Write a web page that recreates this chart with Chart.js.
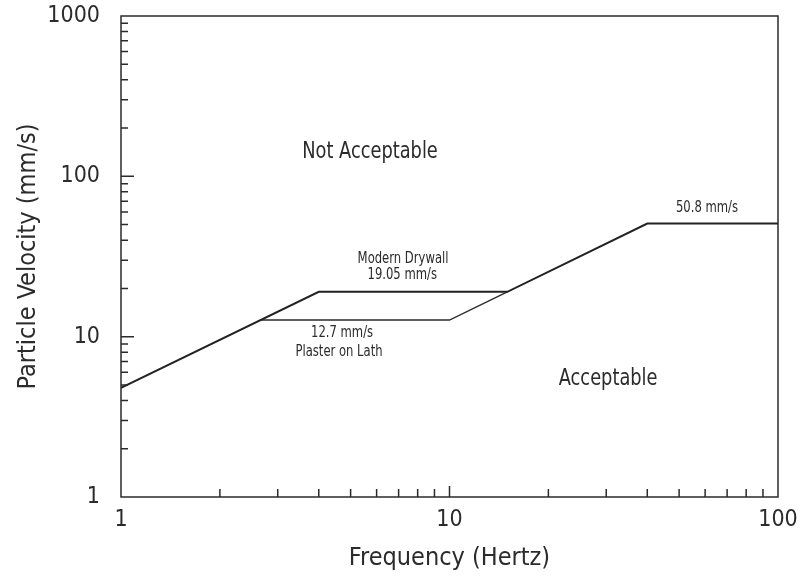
<!DOCTYPE html>
<html>
<head>
<meta charset="utf-8">
<script src="https://cdn.jsdelivr.net/npm/chart.js@4/dist/chart.umd.min.js"></script>
<style>
  body { margin: 0; background: #fff; }
  canvas { display: block; }
</style>
</head>
<body>
<canvas id="myChart" width="800" height="576"></canvas>
<script>
// limit curve (drywall), thick line
const drywallFreq = [1, 4, 15, 40, 100];
const drywallVel = [4.8, 19.05, 19.05, 50.8, 50.8];
// plaster on lath branch, thin line
const plasterFreq = [2.67, 10, 15];
const plasterVel = [12.7, 12.7, 19.05];

const xTickLabels = [1, 10, 100];
const yTickLabels = [1, 10, 100, 1000];

// text notes, placed in data units
const noteText = ['Not Acceptable', 'Acceptable', 'Modern Drywall', '19.05 mm/s', '12.7 mm/s', 'Plaster on Lath', '50.8 mm/s'];
const noteFreq = [5.73, 30.4, 7.22, 7.18, 4.71, 4.61, 60.8];
const noteVel = [142, 5.45, 30.5, 24.3, 10.5, 8.03, 63.5];
const noteBig = [true, true, false, false, false, false, false];

var FONT = "'DejaVu Sans Condensed', 'DejaVu Sans', sans-serif";
var INK = '#2b2b2b';

function pts(xs, ys) {
    return xs.map(function(x, i) { return { x: x, y: ys[i] }; });
}

// inside tick marks, frame and notes
var decor = {
    id: 'decor',
    afterDatasetsDraw: function(chart) {
        var ctx = chart.ctx;
        var a = chart.chartArea;
        var xs = chart.scales.x, ys = chart.scales.y;
        ctx.save();
        ctx.strokeStyle = INK;
        ctx.lineWidth = 1.5;
        ctx.strokeRect(a.left, a.top, a.right - a.left, a.bottom - a.top);

        ctx.beginPath();
        for (var d = 1; d < 100; d *= 10) {
            for (var k = 2; k <= 10; k++) {
                var v = d * k;
                if (v >= 100) break;
                var px = xs.getPixelForValue(v);
                var len = (k == 10) ? 11 : 8;
                ctx.moveTo(px, a.bottom);
                ctx.lineTo(px, a.bottom - len);
            }
        }
        for (var d = 1; d < 1000; d *= 10) {
            for (var k = 2; k <= 10; k++) {
                var v = d * k;
                if (v >= 1000) break;
                var py = ys.getPixelForValue(v);
                var len = (k == 10) ? 13 : 7;
                ctx.moveTo(a.left, py);
                ctx.lineTo(a.left + len, py);
            }
        }
        ctx.stroke();

        ctx.fillStyle = INK;
        ctx.textAlign = 'center';
        ctx.textBaseline = 'middle';
        noteText.forEach(function(t, i) {
            ctx.save();
            ctx.translate(xs.getPixelForValue(noteFreq[i]), ys.getPixelForValue(noteVel[i]));
            ctx.scale(0.86, 1);  // the original lettering is narrower
            ctx.font = (noteBig[i] ? '23px ' : '15px ') + FONT;
            ctx.fillText(t, 0, 0);
            ctx.restore();
        });
        ctx.restore();
    }
};

var ctx = document.getElementById('myChart');
var myChart = new Chart(ctx, {
    type: 'scatter',
    data: {
        datasets: [{
            data: pts(drywallFreq, drywallVel),
            showLine: true,
            borderColor: '#222',
            borderWidth: 2,
            pointRadius: 0
        }, {
            data: pts(plasterFreq, plasterVel),
            showLine: true,
            borderColor: '#2b2b2b',
            borderWidth: 1.4,
            pointRadius: 0
        }]
    },
    options: {
        responsive: false,
        animation: false,
        layout: { padding: { top: 16, right: 22, left: 0, bottom: 0 } },
        plugins: {
            legend: { display: false },
            tooltip: { enabled: false }
        },
        scales: {
            x: {
                type: 'logarithmic',
                min: 1,
                max: 100,
                afterBuildTicks: function(s) { s.ticks = xTickLabels.map(function(v) { return { value: v }; }); },
                afterFit: function(s) { s.height = 79; s.paddingLeft = 0; s.paddingRight = 0; },
                grid: { display: false, drawTicks: false },
                border: { display: false },
                ticks: {
                    color: INK,
                    font: { family: FONT, size: 23 },
                    padding: 9,
                    maxRotation: 0,
                    callback: function(v) { return String(v); }
                },
                title: {
                    display: true,
                    text: 'Frequency (Hertz)',
                    color: INK,
                    font: { family: FONT, size: 25 },
                    padding: { top: 0, bottom: 3 }
                }
            },
            y: {
                type: 'logarithmic',
                min: 1,
                max: 1000,
                afterBuildTicks: function(s) { s.ticks = yTickLabels.map(function(v) { return { value: v }; }); },
                afterFit: function(s) { s.width = 121; s.paddingTop = 0; s.paddingBottom = 0; },
                grid: { display: false, drawTicks: false },
                border: { display: false },
                ticks: {
                    color: INK,
                    font: { family: FONT, size: 23 },
                    padding: 21,
                    callback: function(v) { return String(v); }
                },
                title: {
                    display: true,
                    text: 'Particle Velocity (mm/s)',
                    color: INK,
                    font: { family: FONT, size: 25 },
                    padding: { top: 13, bottom: 0 }
                }
            }
        }
    },
    plugins: [decor]
});
</script>
</body>
</html>
